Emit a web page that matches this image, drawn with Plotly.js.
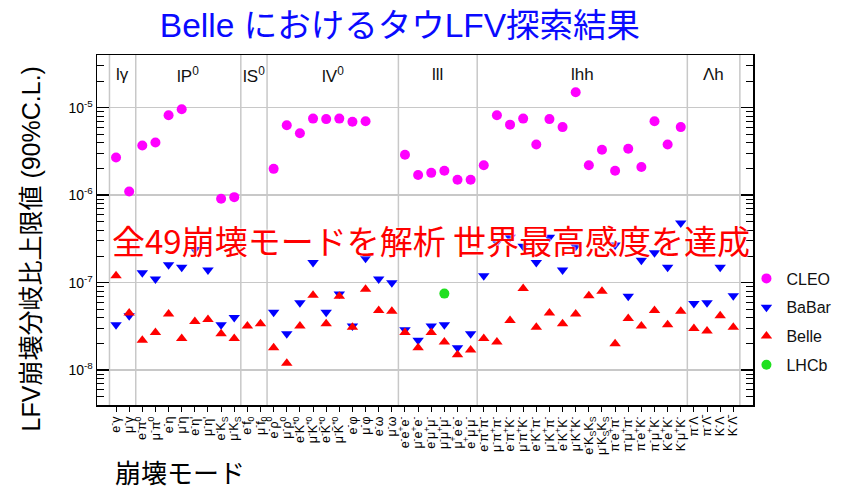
<!DOCTYPE html>
<html><head><meta charset="utf-8">
<script src="https://cdn.plot.ly/plotly-3.0.1.min.js"></script>
<style>html,body{margin:0;padding:0;background:#fff}#chart{width:851px;height:492px}</style>
</head><body><div id="chart"></div>
<script>
const modeLabels = [
 "e<sup>-</sup>γ","μ<sup>-</sup>γ",
 "e<sup>-</sup>π<sup>0</sup>","μ<sup>-</sup>π<sup>0</sup>","e<sup>-</sup>η","μ<sup>-</sup>η","e<sup>-</sup>η'","μ<sup>-</sup>η'","e<sup>-</sup>K<sub>S</sub>","μ<sup>-</sup>K<sub>S</sub>",
 "e<sup>-</sup>f<sub>0</sub>","μ<sup>-</sup>f<sub>0</sub>",
 "e<sup>-</sup>ρ<sup>0</sup>","μ<sup>-</sup>ρ<sup>0</sup>","e<sup>-</sup>K<sup>*0</sup>","μ<sup>-</sup>K<sup>*0</sup>","e<sup>-</sup>K̄<sup>*0</sup>","μ<sup>-</sup>K̄<sup>*0</sup>","e<sup>-</sup>φ","μ<sup>-</sup>φ","e<sup>-</sup>ω","μ<sup>-</sup>ω",
 "e<sup>-</sup>e<sup>+</sup>e<sup>-</sup>","μ<sup>-</sup>e<sup>+</sup>e<sup>-</sup>","e<sup>-</sup>μ<sup>+</sup>μ<sup>-</sup>","μ<sup>-</sup>μ<sup>+</sup>μ<sup>-</sup>","μ<sup>+</sup>e<sup>-</sup>e<sup>-</sup>","e<sup>+</sup>μ<sup>-</sup>μ<sup>-</sup>",
 "e<sup>-</sup>π<sup>+</sup>π<sup>-</sup>","μ<sup>-</sup>π<sup>+</sup>π<sup>-</sup>","e<sup>-</sup>π<sup>+</sup>K<sup>-</sup>","μ<sup>-</sup>π<sup>+</sup>K<sup>-</sup>","e<sup>-</sup>K<sup>+</sup>π<sup>-</sup>","μ<sup>-</sup>K<sup>+</sup>π<sup>-</sup>","e<sup>-</sup>K<sup>+</sup>K<sup>-</sup>","μ<sup>-</sup>K<sup>+</sup>K<sup>-</sup>",
 "e<sup>-</sup>K<sub>S</sub>K<sub>S</sub>","μ<sup>-</sup>K<sub>S</sub>K<sub>S</sub>",
 "π<sup>-</sup>e<sup>+</sup>π<sup>-</sup>","π<sup>-</sup>μ<sup>+</sup>π<sup>-</sup>","π<sup>-</sup>e<sup>+</sup>K<sup>-</sup>","π<sup>-</sup>μ<sup>+</sup>K<sup>-</sup>","K<sup>-</sup>e<sup>+</sup>K<sup>-</sup>","K<sup>-</sup>μ<sup>+</sup>K<sup>-</sup>",
 "π<sup>-</sup>Λ","π<sup>-</sup>Λ̄","K<sup>-</sup>Λ","K<sup>-</sup>Λ̄"
];
const groupNames = ["lγ","lP<sup>0</sup>","lS<sup>0</sup>","lV<sup>0</sup>","lll","lhh","Λh"];
const groupSizes = [2,8,2,10,6,16,4];

const cleo = [2.7e-6,1.1e-6, 3.7e-6,4.0e-6,8.2e-6,9.6e-6,null,null,9.1e-7,9.5e-7, null,null,
 2.0e-6,6.3e-6,5.1e-6,7.5e-6,7.4e-6,7.5e-6,6.9e-6,7.0e-6,null,null,
 2.9e-6,1.7e-6,1.8e-6,1.9e-6,1.5e-6,1.5e-6,
 2.2e-6,8.2e-6,6.4e-6,7.5e-6,3.8e-6,7.4e-6,6.0e-6,1.5e-5,2.2e-6,3.3e-6,1.9e-6,3.4e-6,2.1e-6,7.0e-6,3.8e-6,6.0e-6,
 null,null,null,null];
const babar = [3.3e-8,4.2e-8, 1.3e-7,1.1e-7,1.6e-7,1.5e-7,2.4e-7,1.4e-7,3.3e-8,4.0e-8, null,null,
 4.6e-8,2.6e-8,5.9e-8,1.7e-7,4.6e-8,7.4e-8,3.2e-8,1.9e-7,1.1e-7,1.0e-7,
 2.9e-8,2.2e-8,3.2e-8,3.3e-8,1.8e-8,2.6e-8,
 1.2e-7,2.9e-7,3.3e-7,2.6e-7,1.7e-7,3.3e-7,1.4e-7,2.6e-7,null,null,2.7e-7,7.0e-8,1.8e-7,2.2e-7,1.5e-7,4.8e-7,
 5.8e-8,5.9e-8,1.5e-7,7.1e-8];
const belle = [1.2e-7,4.5e-8, 2.2e-8,2.7e-8,4.4e-8,2.3e-8,3.6e-8,3.8e-8,2.6e-8,2.3e-8, 3.2e-8,3.4e-8,
 1.8e-8,1.2e-8,3.2e-8,7.2e-8,3.4e-8,7.0e-8,3.1e-8,8.4e-8,4.8e-8,4.7e-8,
 2.7e-8,1.8e-8,2.7e-8,2.1e-8,1.5e-8,1.7e-8,
 2.3e-8,2.1e-8,3.7e-8,8.6e-8,3.1e-8,4.5e-8,3.4e-8,4.4e-8,7.1e-8,8.0e-8,2.0e-8,3.9e-8,3.2e-8,4.8e-8,3.3e-8,4.7e-8,
 3.0e-8,2.8e-8,4.2e-8,3.1e-8];
const lhcb = [null,null, null,null,null,null,null,null,null,null, null,null,
 null,null,null,null,null,null,null,null,null,null,
 null,null,null,7.5e-8,null,null,
 null,null,null,null,null,null,null,null,null,null,null,null,null,null,null,null,
 null,null,null,null];

const yTickVals = [1e-8,1e-7,1e-6,1e-5];
const yTickText = ["10<sup>-8</sup>","10<sup>-7</sup>","10<sup>-6</sup>","10<sup>-5</sup>"];

const xIdx = modeLabels.map((_, i) => i);

// minor tick positions (2..9 x 10^k)
const minorVals = [];
for (let k = -9; k <= -5; k++) for (let m = 2; m <= 9; m++) minorVals.push(m * Math.pow(10, k));

// group boundaries & centres
const shapes = [];
const annotations = [];
let start = 0;
const bounds = [-0.5];
groupSizes.forEach((n, g) => {
  const centre = start + (n - 1) / 2;
  annotations.push({xref:'x', yref:'paper', x: centre, y: 0.943, text: groupNames[g], showarrow:false,
    font:{family:'Arial, Liberation Sans, sans-serif', size:17, color:'#111'}, xanchor:'center', yanchor:'middle'});
  start += n;
  bounds.push(start - 0.5);
});
bounds.forEach(b => shapes.push({type:'line', xref:'x', yref:'paper', x0:b, x1:b, y0:0, y1:1, layer:'below',
  line:{color:'#c8c8c8', width:1.5}}));

annotations.push({xref:'paper', yref:'paper', x:0.509, y:0.471, text:'全49崩壊モードを解析 世界最高感度を達成', showarrow:false,
  font:{family:'Noto Sans CJK JP, sans-serif', size:33, color:'#ff0000', shadow:'0 0 2px #fff, 0 0 2px #fff'}, xanchor:'center', yanchor:'middle'});
annotations.push({xref:'paper', yref:'paper', x:-0.1, y:0.4457, text:'LFV崩壊分岐比上限値 (90%C.L.)', showarrow:false, textangle:-90,
  font:{family:'Arial, Noto Sans CJK JP, sans-serif', size:25, color:'#000'}, xanchor:'center', yanchor:'middle'});
annotations.push({xref:'paper', yref:'paper', x:0.0244, y:-0.19, text:'崩壊モード', showarrow:false,
  font:{family:'Noto Sans CJK JP, sans-serif', size:26, color:'#000'}, xanchor:'left', yanchor:'middle'});

const mk = (name, y, symbol, color) => ({
  type:'scatter', mode:'markers', name, x:xIdx, y, legendgroup:name,
  marker:{symbol, color, size:10, line:{width:0}}, hoverinfo:'x+y+name'
});

const data = [
  mk('CLEO', cleo, 'circle', '#ff00ff'),
  mk('BaBar', babar, 'triangle-down', '#0000ff'),
  mk('Belle', belle, 'triangle-up', '#ff0000'),
  mk('LHCb', lhcb, 'circle', '#1fe01f')
];

const layout = {
  width:851, height:492,
  margin:{l:97, r:98, t:55, b:87},
  paper_bgcolor:'#fff', plot_bgcolor:'#fff',
  title:{text:'Belle におけるタウLFV探索結果', x:0.47, xanchor:'center', y:0.949, yanchor:'middle',
    font:{family:'Arial, Noto Sans CJK JP, sans-serif', size:33.5, color:'#0a0aff'}},
  xaxis:{range:[-1.45, 48.5], tickvals:xIdx, ticktext:modeLabels, tickangle:-90,
    ticks:'outside', ticklen:5, tickcolor:'#000', tickwidth:1,
    showline:true, linecolor:'#000', linewidth:1.5, mirror:true, showgrid:false, zeroline:false,
    tickfont:{family:'Arial, Liberation Sans, sans-serif', size:12.5, color:'#000'}},
  yaxis:{type:'log', range:[Math.log10(4e-9), Math.log10(4e-5)], tickvals:yTickVals, ticktext:yTickText,
    ticks:'inside', ticklen:12, tickcolor:'#000', tickwidth:1.5,
    showline:true, linecolor:'#000', linewidth:1.5, mirror:'allticks',
    showgrid:true, gridcolor:'#c8c8c8', gridwidth:1.5, zeroline:false,
    minor:{tickvals:minorVals, ticks:'inside', ticklen:7, tickcolor:'#000', tickwidth:1, showgrid:false},
    tickfont:{family:'Arial, Liberation Sans, sans-serif', size:14, color:'#000'}},
  showlegend:true,
  legend:{x:0.99, xanchor:'left', y:0.41, yanchor:'top', bgcolor:'rgba(0,0,0,0)',
    font:{family:'Arial, Liberation Sans, sans-serif', size:16, color:'#111'}, tracegroupgap:5},
  shapes, annotations
};

Plotly.newPlot('chart', data, layout, {displayModeBar:false, staticPlot:true});
</script></body></html>
